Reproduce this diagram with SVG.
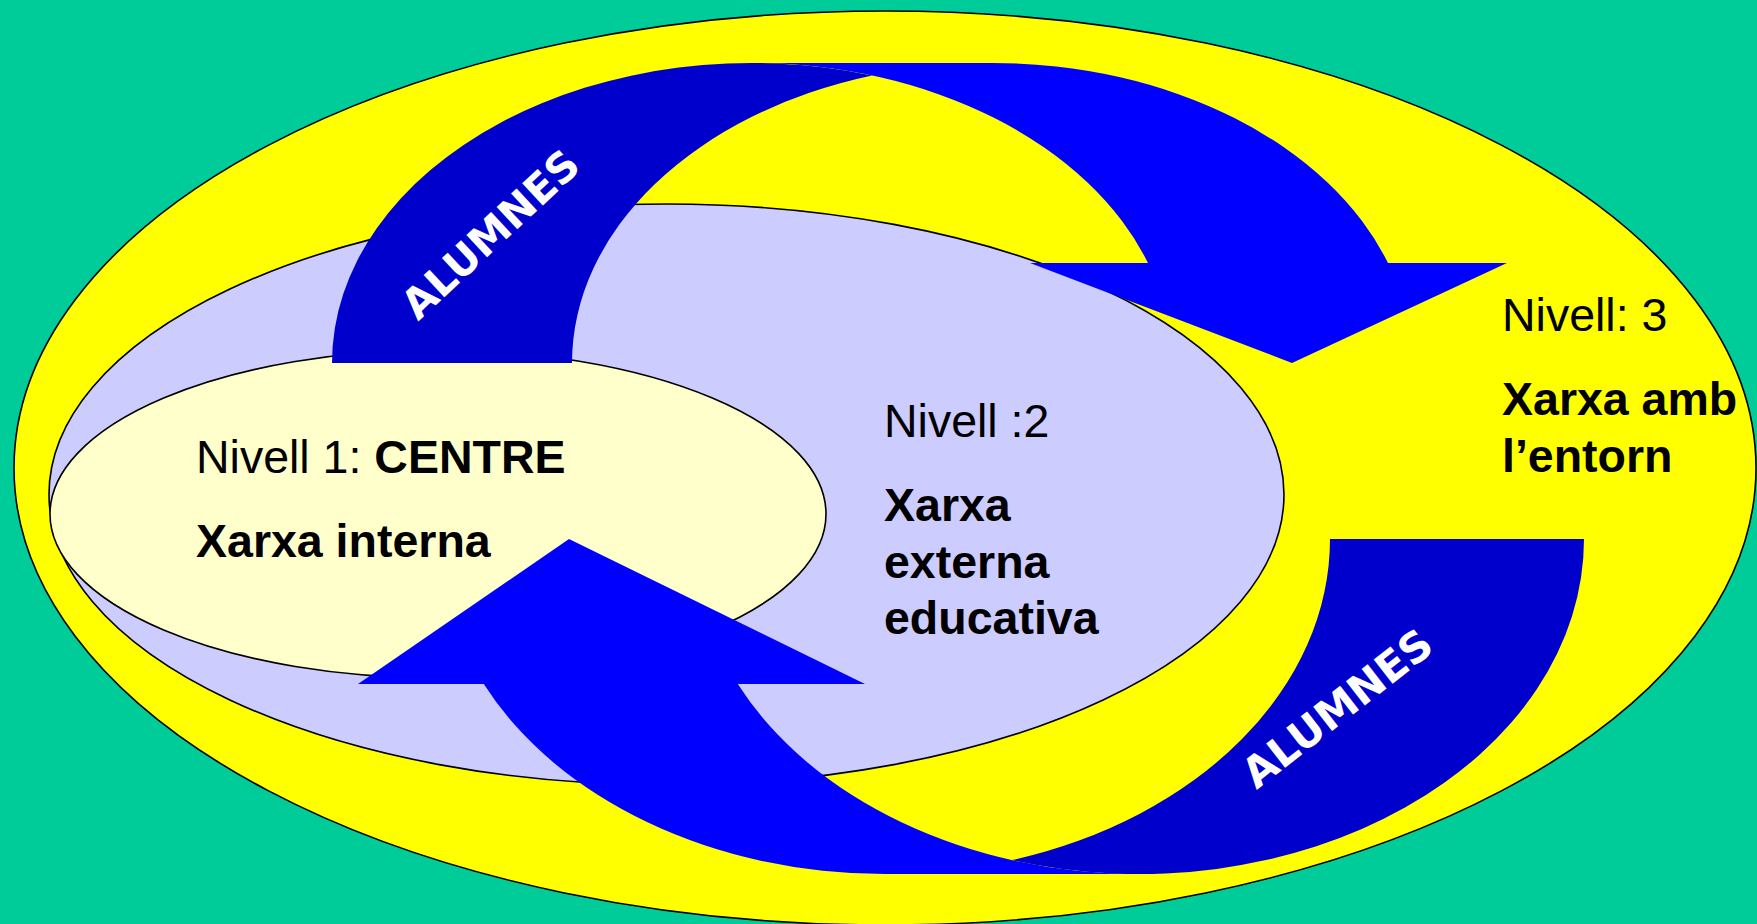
<svg xmlns="http://www.w3.org/2000/svg" width="1757" height="924" viewBox="0 0 1757 924">
<style>
.ell{stroke:#000;stroke-width:1.6}
.t{font-family:"Liberation Sans",Arial,sans-serif;font-size:46.5px;fill:#000}
.b{font-weight:bold}
.front{fill:#0000FF}
.back{fill:#0000CC}
.lab{font-family:"DejaVu Sans",Verdana,sans-serif;font-weight:bold;fill:#fff;text-anchor:middle}
</style>
<rect x="0" y="0" width="1757" height="924" fill="#00CC99"/>
<g id="nivell3">
<ellipse class="ell" cx="885" cy="468" rx="871" ry="457" fill="#FFFF00"/>
<text class="t" x="1502" y="331">Nivell: 3</text>
<text class="t b" x="1502" y="415">Xarxa amb</text>
<text class="t b" x="1502" y="472">l’entorn</text>
</g>
<g id="nivell2">
<ellipse class="ell" cx="666.5" cy="494.5" rx="617.5" ry="290.5" fill="#CCCCFF"/>
<text class="t" x="884" y="437">Nivell :2</text>
<text class="t b" x="884" y="521">Xarxa</text>
<text class="t b" x="884" y="577.5">externa</text>
<text class="t b" x="884" y="634">educativa</text>
</g>
<g id="nivell1">
<ellipse class="ell" cx="438" cy="514" rx="388" ry="164" fill="#FFFFCC"/>
<text class="t" x="196" y="473">Nivell 1: <tspan class="b">CENTRE</tspan></text>
<text class="t b" x="196" y="557">Xarxa interna</text>
</g>
<g id="connectors">
<g id="arrow-top">
<path class="front" d="M1292 363 L1030 263 L1148 263 A420 300 0 0 0 752 63 L992 63 A420 300 0 0 1 1388 263 L1507 263 Z"/>
<path class="back" d="M872 75.5 A420 300 0 0 0 572 363 L332 363 A420 300 0 0 1 872 75.5 Z"/>
<text class="lab" font-size="41.5" transform="translate(490,234) rotate(-43)" y="15">ALUMNES</text>
</g>
<g id="arrow-bottom">
<path class="front" d="M569 539 L358 684 L483.8 684 A445 335 0 0 0 885 874 L1139 874 A445 335 0 0 1 737.8 684 L865 684 Z"/>
<path class="back" d="M1012 860.1 A445 335 0 0 0 1330 539 L1584 539 A445 335 0 0 1 1012 860.1 Z"/>
<text class="lab" font-size="42" transform="translate(1337,708) rotate(-38)" y="15">ALUMNES</text>
</g>
</g>
</svg>
